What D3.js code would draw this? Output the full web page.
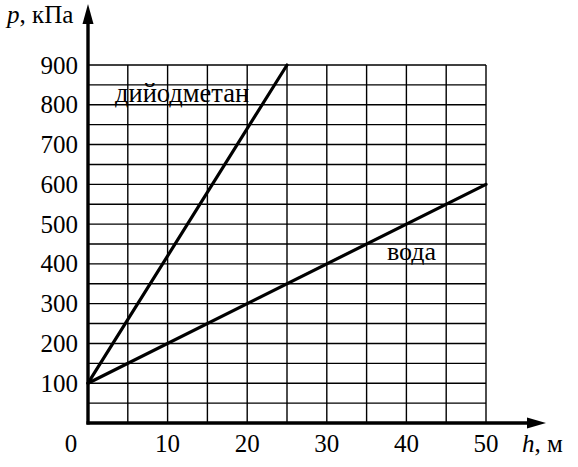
<!DOCTYPE html>
<html>
<head>
<meta charset="utf-8">
<script src="https://cdn.jsdelivr.net/npm/d3@7"></script>
<style>
  html, body { margin: 0; padding: 0; background: #fff; }
  svg { display: block; }
</style>
</head>
<body>
<svg id="chart" width="578" height="467"></svg>
<script>
// Data
const xTicks = [10, 20, 30, 40, 50];
const yTicks = [100, 200, 300, 400, 500, 600, 700, 800, 900];
const gridX = [0, 5, 10, 15, 20, 25, 30, 35, 40, 45, 50];
const gridY = [0, 50, 100, 150, 200, 250, 300, 350, 400, 450, 500, 550, 600, 650, 700, 750, 800, 850, 900];
const diiodoH = [0, 25];
const diiodoP = [100, 900];
const waterH = [0, 50];
const waterP = [100, 600];
const seriesNames = ["дийодметан", "вода"];

const FONT = "'Liberation Serif', 'Times New Roman', serif";

const svg = d3.select("#chart")
  .attr("font-family", FONT).attr("font-size", 25);
const x = d3.scaleLinear().domain([0, 50]).range([88, 486]);
const y = d3.scaleLinear().domain([0, 900]).range([423, 65]);

// Grid
svg.append("g").selectAll("line").data(gridX).join("line")
  .attr("x1", d => x(d)).attr("x2", d => x(d))
  .attr("y1", y(0)).attr("y2", y(900))
  .attr("stroke", "#000").attr("stroke-width", 1.4);
svg.append("g").selectAll("line").data(gridY).join("line")
  .attr("x1", x(0)).attr("x2", x(50))
  .attr("y1", d => y(d)).attr("y2", d => y(d))
  .attr("stroke", "#000").attr("stroke-width", 1.4);

// Data lines
const line = d3.line().x(d => x(d[0])).y(d => y(d[1]));
const series = [
  d3.zip(diiodoH, diiodoP),
  d3.zip(waterH, waterP)
];
svg.append("g").selectAll("path").data(series).join("path")
  .attr("d", line)
  .attr("fill", "none").attr("stroke", "#000").attr("stroke-width", 3.2)
  .attr("stroke-linecap", "round");

// Axes with arrows
const ax = svg.append("g");
ax.append("line").attr("x1", x(0) - 1.5).attr("x2", 530).attr("y1", y(0)).attr("y2", y(0))
  .attr("stroke", "#000").attr("stroke-width", 3.4);
ax.append("path").attr("d", `M546,${y(0)} L527,${y(0) - 5.5} L527,${y(0) + 5.5} Z`).attr("fill", "#000");
ax.append("line").attr("x1", x(0)).attr("x2", x(0)).attr("y1", y(0) + 1.5).attr("y2", 20)
  .attr("stroke", "#000").attr("stroke-width", 3.4);
ax.append("path").attr("d", `M${x(0)},4 L${x(0) - 5.5},24 L${x(0) + 5.5},24 Z`).attr("fill", "#000");

// Tick labels
svg.append("g").selectAll("text").data(yTicks).join("text")
  .attr("x", 78).attr("y", d => y(d) + 8.5)
  .attr("text-anchor", "end").text(d => d);
svg.append("g").selectAll("text").data(xTicks).join("text")
  .attr("x", d => x(d)).attr("y", 452)
  .attr("text-anchor", "middle").text(d => d);
svg.append("text").attr("x", 71).attr("y", 452).attr("text-anchor", "middle").text("0");

// Axis titles
const yt = svg.append("text").attr("x", 7).attr("y", 23);
yt.append("tspan").attr("font-style", "italic").text("p");
yt.append("tspan").text(", кПа");
const xt = svg.append("text").attr("x", 522).attr("y", 452);
xt.append("tspan").attr("font-style", "italic").text("h");
xt.append("tspan").text(", м");

// Series labels
svg.append("text").attr("x", 115).attr("y", 102).attr("font-size", 26.5).text(seriesNames[0]);
svg.append("text").attr("x", 387).attr("y", 260).attr("font-size", 26).text(seriesNames[1]);
</script>
</body>
</html>
